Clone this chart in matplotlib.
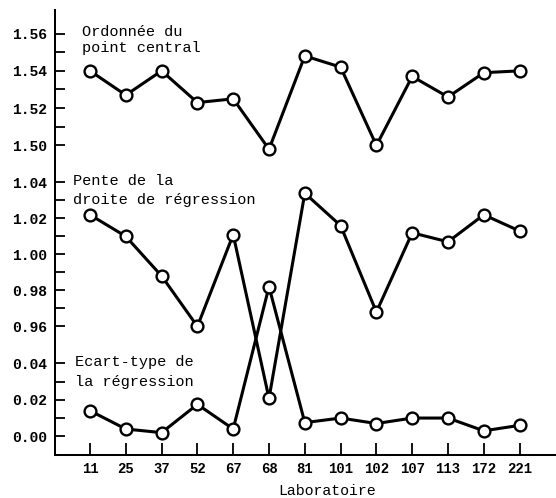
import matplotlib
matplotlib.use('Agg')
import matplotlib.pyplot as plt

# ---- data ----
laboratoires = ['11', '25', '37', '52', '67', '68', '81', '101', '102', '107', '113', '172', '221']
ordonnee = [1.540, 1.527, 1.540, 1.523, 1.525, 1.498, 1.548, 1.542, 1.500, 1.537, 1.526, 1.539, 1.540]
pente = [1.022, 1.010, 0.988, 0.960, 1.011, 0.920, 1.034, 1.016, 0.968, 1.012, 1.007, 1.022, 1.013]
ecart = [0.014, 0.004, 0.002, 0.0175, 0.004, 0.082, 0.0075, 0.010, 0.007, 0.010, 0.010, 0.003, 0.006]

ord_ticks = [1.50, 1.52, 1.54, 1.56]
ord_minor = [1.51, 1.53, 1.55]
pente_ticks = [0.96, 0.98, 1.00, 1.02, 1.04]
pente_minor = [0.97, 0.99, 1.01, 1.03]
ecart_ticks = [0.00, 0.02, 0.04]
ecart_minor = [0.01, 0.03]

# ---- layout (pixels) ----
W, H = 556, 498
L, R, T, B = 55, 556, 10, 455
fig = plt.figure(figsize=(W / 100, H / 100), dpi=100)
rect = [L / W, 1 - B / H, (R - L) / W, (B - T) / H]

x = list(range(len(laboratoires)))
x0, dx = 90, 35.8
xlim = ((L - x0) / dx, (R - x0) / dx)

mono = 'Liberation Mono'
lw_pt = 1.45

frame = fig.add_axes(rect)
frame.set_xlim(*xlim)
frame.set_ylim(0, 1)
for s in ['top', 'right']:
    frame.spines[s].set_visible(False)
for s in ['left', 'bottom']:
    frame.spines[s].set_linewidth(lw_pt)
frame.set_yticks([])
frame.set_xticks(x)
frame.set_xticklabels(laboratoires, fontfamily=mono, fontweight='bold', fontsize=10)
frame.tick_params(axis='x', direction='in', length=9, width=1.3, pad=5)
frame.patch.set_alpha(0)


def panel(vals, v0, p0, s, ticks, minor):
    ax = fig.add_axes(rect, sharex=frame)
    ax.patch.set_alpha(0)
    for sp in ax.spines.values():
        sp.set_visible(False)
    ax.set_ylim(v0 - (B - p0) / s, v0 + (p0 - T) / s)
    ax.set_yticks(ticks)
    ax.set_yticks(minor, minor=True)
    ax.set_yticklabels([f'{t:.2f}' for t in ticks], fontfamily=mono,
                       fontweight='bold', fontsize=10.5)
    ax.tick_params(axis='y', which='both', direction='in', length=7, width=1.3, pad=5.5)
    ax.tick_params(axis='x', which='both', bottom=False, labelbottom=False)
    ax.plot(x, vals, color='black', lw=2.2, marker='o', ms=8.5, mfc='white',
            mec='black', mew=1.7, clip_on=False, zorder=5)
    return ax


panel(ordonnee, 1.53, 89.5, 1866, ord_ticks, ord_minor)
panel(pente, 1.00, 254.4, 1800, pente_ticks, pente_minor)
panel(ecart, 0.02, 399.8, 1825, ecart_ticks, ecart_minor)


def ftext(px, py, s, **kw):
    fig.text(px / W, 1 - py / H, s, fontfamily=mono, fontsize=11, va='baseline', **kw)


ftext(82, 36, 'Ordonnée du')
ftext(82, 52, 'point central')
ftext(73, 185, 'Pente de la')
ftext(73, 204, 'droite de régression')
ftext(75, 366, 'Ecart-type de')
ftext(75, 386, 'la régression')

fig.text(327 / W, 1 - 491 / H, 'Laboratoire', fontfamily=mono, fontsize=10.7,
         ha='center', va='center')

fig.savefig('out.png', dpi=100)
